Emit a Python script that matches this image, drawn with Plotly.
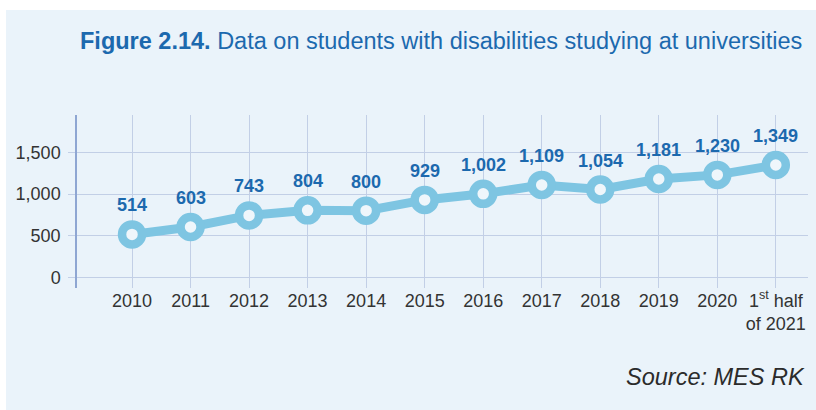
import plotly.graph_objects as go

# data
years = ["2010", "2011", "2012", "2013", "2014", "2015", "2016",
         "2017", "2018", "2019", "2020", "1<sup>st</sup> half<br>of 2021"]
students = [514, 603, 743, 804, 800, 929, 1002, 1109, 1054, 1181, 1230, 1349]
y_ticks = [0, 500, 1000, 1500]
y_tick_labels = ["0", "500", "1,000", "1,500"]

bg = "#EAF3FA"
line_col = "#7EC5E2"
label_col = "#1C69AE"
grid_col = "#C2CFE6"
font = "Liberation Sans, Arial"

W, H = 816, 410
L, R, T, B = 77, 8, 115, 122
pw, ph = W - L - R, H - T - B


def px_x(x):
    return (x - L) / pw


def px_y(y):
    return (H - B - y) / ph


fig = go.Figure()

fig.add_trace(go.Scatter(
    x=list(range(len(years))),
    y=students,
    mode="lines+markers",
    line=dict(color=line_col, width=9),
    marker=dict(size=20, color="#EFF6FB", line=dict(color=line_col, width=8.5)),
    cliponaxis=False,
    hoverinfo="skip",
))

# value labels above each point
for i, v in enumerate(students):
    fig.add_annotation(x=i, y=v, text=f"<b>{v:,}</b>", showarrow=False,
                       yshift=29, yanchor="middle",
                       font=dict(family=font, size=18, color=label_col))

# light blue panel behind everything
fig.add_shape(type="rect", xref="paper", yref="paper",
              x0=px_x(6), x1=px_x(816), y0=px_y(410), y1=px_y(10),
              fillcolor=bg, line=dict(width=0), layer="below")

fig.add_annotation(
    text="<b>Figure 2.14.</b> Data on students with disabilities studying at universities",
    xref="paper", yref="paper", x=px_x(804), y=px_y(41),
    xanchor="right", yanchor="middle", showarrow=False,
    font=dict(family=font, size=23.5, color=label_col))

fig.add_annotation(
    text="<i>Source: MES RK</i>",
    xref="paper", yref="paper", x=px_x(807), y=px_y(377),
    xanchor="right", yanchor="middle", showarrow=False,
    font=dict(family=font, size=23.5, color="#2B2B2B"))

fig.update_xaxes(
    range=[-0.94, 11.55],
    tickvals=list(range(len(years))), ticktext=years,
    showgrid=True, gridcolor=grid_col, gridwidth=1.2,
    zeroline=False, showline=False, ticks="",
    tickfont=dict(family=font, size=18, color="#333333"),
    fixedrange=True,
)
fig.update_yaxes(
    range=[-130, 1950],
    tickvals=y_ticks, ticktext=y_tick_labels,
    showgrid=True, gridcolor=grid_col, gridwidth=1.2,
    zeroline=False, showline=True, linecolor="#8EA6D2", linewidth=1.5,
    ticks="outside", ticklen=7, tickcolor=grid_col, tickwidth=1.2,
    ticklabelstandoff=4,
    tickfont=dict(family=font, size=18, color="#333333"),
    fixedrange=True,
)

fig.update_layout(
    width=W, height=H,
    margin=dict(l=L, r=R, t=T, b=B),
    paper_bgcolor="white",
    plot_bgcolor="rgba(0,0,0,0)",
    showlegend=False,
)

fig.write_html("out.html", config={"displayModeBar": False},
               post_script="document.body.style.margin='0';")
